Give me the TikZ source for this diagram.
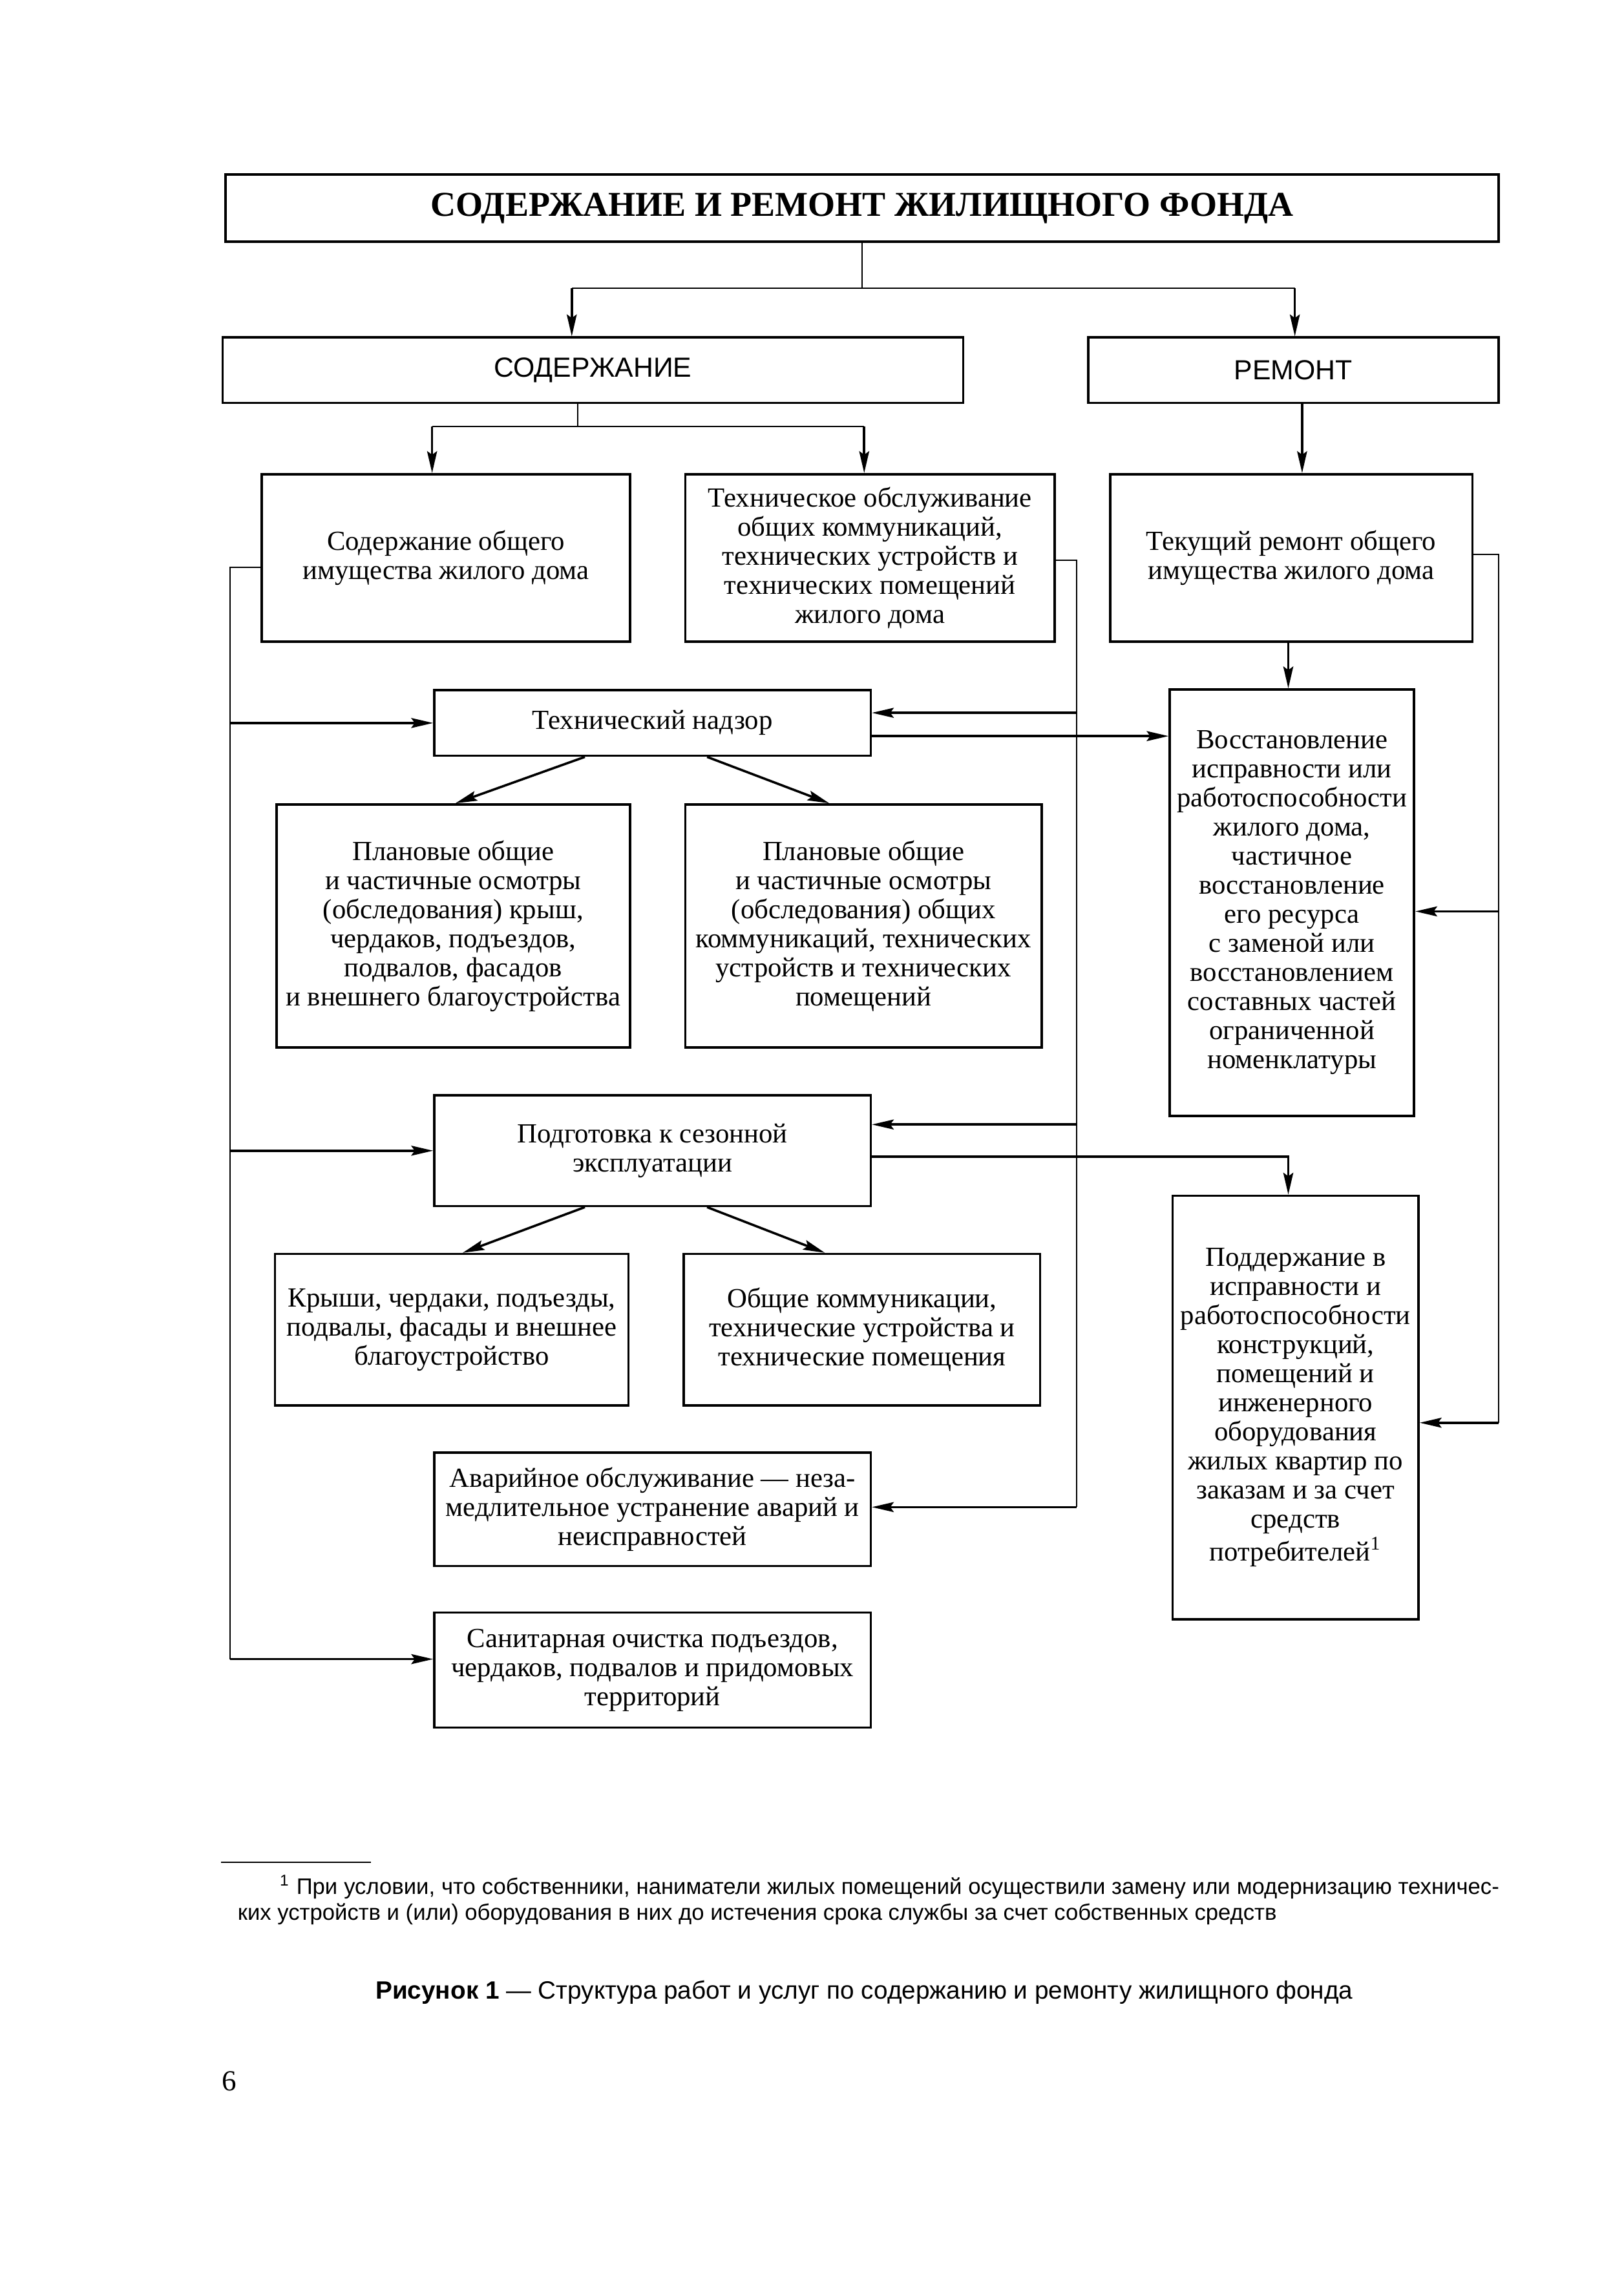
\documentclass[tikz,border=0pt]{standalone}
\usepackage{fontspec}
\setmainfont{Liberation Serif}
\setsansfont{Liberation Sans}
\usetikzlibrary{arrows.meta}
\begin{document}
\begin{tikzpicture}[x=0.5pt,y=-0.5pt,
 bx/.style={draw,line width=0.8pt,align=center,inner sep=1pt,font=\fontsize{9.5}{10}\selectfont},
 ln/.style={line width=0.5pt},
 ar/.style={line width=0.8pt,-{Stealth[length=7.5pt,width=3.4pt,inset=1.2pt]}},
]
\useasboundingbox (0,0) rectangle (1116,1568);
\node[bx,minimum width=437.5pt,minimum height=23pt,font=\bfseries\fontsize{12}{14}\selectfont] (title) at (592.5,143) {СОДЕРЖАНИЕ И РЕМОНТ ЖИЛИЩНОГО ФОНДА};
\node[bx,minimum width=254.5pt,minimum height=22.5pt,font=\sffamily\fontsize{9.5}{10}\selectfont] (sod) at (407.5,254.5) {СОДЕРЖАНИЕ};
\node[bx,minimum width=141pt,minimum height=22.5pt,font=\sffamily\fontsize{9.5}{10}\selectfont] (rem) at (889,254.5) {РЕМОНТ};
\node[bx,minimum width=126.5pt,minimum height=57.5pt] (b1) at (306.5,383.5) {Содержание общего\\имущества жилого дома};
\node[bx,minimum width=127pt,minimum height=57.5pt] (b2) at (598,383.5) {Техническое обслуживание\\общих коммуникаций,\\технических устройств и\\технических помещений\\жилого дома};
\node[bx,minimum width=124.5pt,minimum height=57.5pt] (b3) at (887.5,383.5) {Текущий ремонт общего\\имущества жилого дома};
\node[bx,minimum width=150pt,minimum height=22.5pt] (tn) at (448.5,497) {Технический надзор};
\node[bx,minimum width=121.5pt,minimum height=83.5pt] (pl1) at (311.5,636.5) {Плановые общие\\и частичные осмотры\\(обследования) крыш,\\чердаков, подъездов,\\подвалов, фасадов\\и внешнего благоустройства};
\node[bx,minimum width=122.5pt,minimum height=83.5pt] (pl2) at (593.5,636.5) {Плановые общие\\и частичные осмотры\\(обследования) общих\\коммуникаций, технических\\устройств и технических\\помещений};
\node[bx,minimum width=84pt,minimum height=146.5pt] (vos) at (888,620.5) {Восстановление\\исправности или\\работоспособности\\жилого дома,\\частичное\\восстановление\\его ресурса\\с заменой или\\восстановлением\\составных частей\\ограниченной\\номенклатуры};
\node[bx,minimum width=150pt,minimum height=38pt] (pod) at (448.5,791) {Подготовка к сезонной\\эксплуатации};
\node[bx,minimum width=121.5pt,minimum height=52pt] (kr) at (310.5,914) {Крыши, чердаки, подъезды,\\подвалы, фасады и внешнее\\благоустройство};
\node[bx,minimum width=122.5pt,minimum height=52pt] (ob) at (592.5,914) {Общие коммуникации,\\технические устройства и\\технические помещения};
\node[bx,minimum width=84.5pt,minimum height=145.5pt] (pdd) at (890.5,967.5) {Поддержание в\\исправности и\\работоспособности\\конструкций,\\помещений и\\инженерного\\оборудования\\жилых квартир по\\заказам и за счет\\средств\\потребителей\textsuperscript{1}};
\node[bx,minimum width=150pt,minimum height=39pt] (av) at (448.5,1037.5) {Аварийное обслуживание — неза-\\медлительное устранение аварий и\\неисправностей};
\node[bx,minimum width=150pt,minimum height=39.5pt] (san) at (448.5,1148) {Санитарная очистка подъездов,\\чердаков, подвалов и придомовых\\территорий};
% top split
\coordinate (j1) at (592.5,198);
\coordinate (j1l) at (393,198);
\coordinate (j1r) at (890,198);
\draw[ln] (title) -- (j1);
\draw[ln] (j1l) -- (j1r);
\draw[ar] (j1l) -- (sod.north -| j1l);
\draw[ar] (j1r) -- (rem.north -| j1r);
% sod split
\coordinate (j2) at (397,293);
\coordinate (j2l) at (297,293);
\coordinate (j2r) at (594,293);
\draw[ln] (sod.south -| j2) -- (j2);
\draw[ln] (j2l) -- (j2r);
\draw[ar] (j2l) -- (b1.north -| j2l);
\draw[ar] (j2r) -- (b2.north -| j2r);
% rem -> b3
\coordinate (j3) at (895,300);
\draw[ar] (rem.south -| j3) -- (b3.north -| j3);
% left bus
\coordinate (lbt) at (158,390);
\coordinate (lbb) at (158,1140.5);
\draw[ln] (b1.west |- lbt) -- (lbt) -- (lbb);
\draw[ar] (lbb) -- (san.west |- lbb);
\draw[ar] (lbt |- tn.west) -- (tn.west);
\draw[ar] (lbt |- pod.west) -- (pod.west);
% middle bus
\coordinate (mbt) at (740,385);
\coordinate (mbb) at (740,1036);
\draw[ln] (b2.east |- mbt) -- (mbt) -- (mbb);
\draw[ar] (mbb) -- (av.east |- mbb);
\draw[ar] (mbt |- 0,490) -- (tn.east |- 0,490);
\draw[ar] (mbt |- 0,773) -- (pod.east |- 0,773);
% right bus
\coordinate (rbt) at (1030,381);
\coordinate (rbb) at (1030,978);
\draw[ln] (b3.east |- rbt) -- (rbt) -- (rbb);
\draw[ar] (rbb) -- (pdd.east |- rbb);
\draw[ar] (rbt |- 0,626.5) -- (vos.east |- 0,626.5);
% other connectors
\draw[ar] (tn.east |- 0,506) -- (vos.west |- 0,506);
\draw[ar] (b3.south -| 885.5,0) -- (vos.north -| 885.5,0);
\draw[ar] (pod.east |- 0,795) -| (pdd.north -| 885.5,0);
\draw[ar] (tn.south -| 402,0) -- (pl1.north -| 313,0);
\draw[ar] (tn.south -| 486,0) -- (pl2.north -| 570,0);
\draw[ar] (pod.south -| 402,0) -- (kr.north -| 318,0);
\draw[ar] (pod.south -| 486,0) -- (ob.north -| 567,0);
% footnote
\draw[line width=0.5pt] (152,1280) -- (255,1280);
\node[anchor=base west,font=\sffamily\fontsize{7.7}{9.4}\selectfont,inner sep=0pt] (fn1) at (192,1302) {\hbox to 419pt{\textsuperscript{1} При условии, что собственники, наниматели жилых помещений осуществили замену или модернизацию техничес-}};
\node[anchor=base west,font=\sffamily\fontsize{7.7}{9.4}\selectfont,inner sep=0pt] (fn2) at (163,1320) {ких устройств и (или) оборудования в них до истечения срока службы за счет собственных средств};
\node[anchor=base,font=\sffamily\fontsize{8.6}{10.5}\selectfont,inner sep=0pt] (cap) at (594,1374) {\textbf{Рисунок 1} — Структура работ и услуг по содержанию и ремонту жилищного фонда};
\node[anchor=base west,font=\fontsize{10}{12}\selectfont,inner sep=0pt] (pg) at (152,1437) {6};
\end{tikzpicture}
\end{document}
